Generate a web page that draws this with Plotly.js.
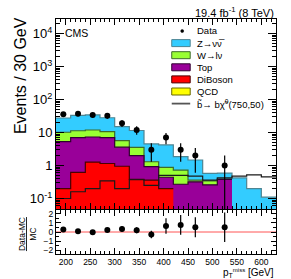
<!DOCTYPE html>
<html><head><meta charset="utf-8">
<script src="https://cdn.plot.ly/plotly-3.0.1.min.js"></script>
<style>html,body{margin:0;padding:0;background:#fff}#c{width:291px;height:279px}</style>
</head><body><div id="c"></div>
<script>
// ---- data ----
const binEdges   = [180,210,240,270,300,330,360,390,420,450,480,510,540,570,600,630];
const qcd        = [0,0,0,0,0,0,0,0,0,0,0,0,0,0,0];
const diboson    = [0.20,0.62,1.27,1.15,0.95,0.38,0.36,0.20,0,0,0,0,0,0,0];
const topq       = [5.10,6.38,6.03,5.85,2.65,1.62,0.56,0.24,0.27,0.32,0.26,0.38,0,0,0];
const wlnu       = [4.90,4.30,4.60,3.60,2.10,1.55,0.38,0.44,0.45,0.04,0.08,0.01,0,0,0];
const znunu      = [17.3,21.7,22.1,17.4,9.30,7.95,3.20,3.32,1.13,1.11,0.24,0.20,0.42,0.20,0.11];
const signal     = [0.10,0.16,0.20,0.34,0.20,0.37,0.25,0.50,0.50,0.48,0.36,0.42,0.48,0.52,0.45];
const dataX      = [195,225,255,285,315,345,375,405,435,465,525];
const dataY      = [36,37,34,32,19,12,3,7,3,2,1];
const dataErrUp  = [6.0,6.1,5.8,5.7,4.4,3.5,1.7,2.6,1.7,1.4,1.0];
const dataErrDn  = [6.0,6.1,5.8,5.7,4.4,3.5,1.7,2.6,1.7,1.4,0.999];
const ratioY     = [0.26,0.08,-0.03,0.23,0.34,0.19,-0.27,0.66,0.77,0.52,0.52];
const ratioErr   = [0.20,0.18,0.18,0.20,0.30,0.32,0.42,0.84,1.08,1.08,1.60];
const xTicks     = [200,250,300,350,400,450,500,550,600];
const yTickVals  = [0.1,1,10,100,1000,10000];
const yTickText  = ['10<sup>-1</sup>','1','10','10<sup>2</sup>','10<sup>3</sup>','10<sup>4</sup>'];

// ---- stacking ----
const comps = [qcd, diboson, topq, wlnu, znunu];
const cum = [];
let run = new Array(qcd.length).fill(0);
for (const c of comps) { run = run.map((v,i)=>v + c[i]); cum.push(run.slice()); }

const styles = [
  {name:'QCD',     fill:'#ffff00', line:'#666600'},
  {name:'DiBoson', fill:'#ff0000', line:'#4a0000'},
  {name:'Top',     fill:'#990099', line:'#300030'},
  {name:'W',       fill:'#99ff33', line:'#3d6b2a'},
  {name:'Z',       fill:'#33ccff', line:'#4d8593'}
];

function stepTrace(vals, comp, fill, line, name) {
  let k = -1;
  for (let i=0;i<vals.length;i++) if (vals[i] > 0 && comp.slice(i).some(v=>v>0)) k = i;
  if (k < 0) return null;
  const x = binEdges.slice(0, k+2);
  const y = vals.slice(0, k+1); y.push(vals[k]);
  return {type:'scatter', mode:'lines', x:x, y:y, name:name,
    line:{shape:'hv', color:line, width:1.2}, fill:'tozeroy', fillcolor:fill,
    xaxis:'x2', yaxis:'y2', hoverinfo:'skip', showlegend:false};
}

const traces = [];
for (let j=comps.length-1;j>=0;j--) {
  const t = stepTrace(cum[j], comps[j], styles[j].fill, styles[j].line, styles[j].name);
  if (t) traces.push(t);
}
const sy = signal.slice(); sy.push(signal[signal.length-1]);
traces.push({type:'scatter', mode:'lines', x:binEdges, y:sy, line:{shape:'hv', color:'#1a1a1a', width:1.2},
  xaxis:'x2', yaxis:'y2', showlegend:false, hoverinfo:'skip'});
traces.push({type:'scatter', mode:'markers', x:dataX, y:dataY,
  marker:{color:'black', size:6},
  error_y:{type:'data', symmetric:false, array:dataErrUp, arrayminus:dataErrDn, color:'black', thickness:1.2, width:0},
  xaxis:'x2', yaxis:'y2', showlegend:false, hoverinfo:'skip'});
traces.push({type:'scatter', mode:'markers', x:dataX, y:ratioY,
  marker:{color:'black', size:6},
  error_y:{type:'data', array:ratioErr, color:'black', thickness:1.2, width:0},
  xaxis:'x', yaxis:'y', showlegend:false, hoverinfo:'skip'});

// ---- geometry helpers for decorations (pixel -> paper) ----
const L=56, R=276.5, T=19, B=254;
const px = v => (v - L)/(R - L);
const py = v => (B - v)/(B - T);

const F = 'Liberation Sans, Arial, sans-serif';
const minorLog = [];
for (let e=-2;e<=4;e++) for (let m=2;m<=9;m++) minorLog.push(m*Math.pow(10,e));

const shapes = [
  {type:'line', xref:'x', yref:'y', x0:180, x1:630, y0:0, y1:0, line:{color:'#ff5555', width:1}, layer:'below'}
];
const annotations = [
  {text:'19.4 fb<sup>-1</sup> (8 TeV)', xref:'paper', yref:'paper', x:1, y:py(12), xanchor:'right', yanchor:'middle', showarrow:false, font:{family:F, size:11, color:'black'}},
  {text:'CMS', xref:'paper', yref:'paper', x:px(63), y:py(33), xanchor:'left', yanchor:'middle', showarrow:false, font:{family:F, size:10.5, color:'black'}},
  {text:'Events / 30 GeV', xref:'paper', yref:'paper', x:px(20), y:py(76), xanchor:'center', yanchor:'middle', textangle:-90, showarrow:false, font:{family:F, size:16, color:'black'}},
  {text:'<u>Data-MC</u><br>MC', xref:'paper', yref:'paper', x:px(27), y:py(234), xanchor:'center', yanchor:'middle', textangle:-90, showarrow:false, font:{family:F, size:8.5, color:'black'}},
  {text:'p<sub>T</sub><sup><span style="font-size:6px">miss</span></sup> [GeV]', xref:'paper', yref:'paper', x:1, y:py(272.5), xanchor:'right', yanchor:'middle', showarrow:false, font:{family:F, size:10, color:'black'}}
];

// ---- manual legend ----
const legItems = [
  {type:'marker', text:'Data'},
  {type:'box', text:'Z\u2192\u03bd\u03bd\u0305', fill:'#33ccff', line:'#4d8593'},
  {type:'box', text:'W\u2192l\u03bd', fill:'#99ff33', line:'#3d6b2a'},
  {type:'box', text:'Top', fill:'#990099', line:'#300030'},
  {type:'box', text:'DiBoson', fill:'#ff0000', line:'#4a0000'},
  {type:'box', text:'QCD', fill:'#ffff00', line:'#666600'},
  {type:'line', text:'b\u0303\u2192 b\u03c7\u0303<sup>0</sup>(750,50)'}
];
const lx0=172, lx1=190.5, ltx=195, ly0=31, ldy=12.1;
legItems.forEach((it,i)=>{
  const yc = ly0 + i*ldy;
  if (it.type==='box') shapes.push({type:'rect', xref:'paper', yref:'paper', x0:px(lx0), x1:px(lx1), y0:py(yc+3.5), y1:py(yc-3.5), fillcolor:it.fill, line:{color:it.line, width:1}});
  else if (it.type==='marker') shapes.push({type:'circle', xref:'paper', yref:'paper', x0:px(181), x1:px(184), y0:py(yc+1.5), y1:py(yc-1.5), fillcolor:'black', line:{color:'black', width:0.5}});
  else shapes.push({type:'line', xref:'paper', yref:'paper', x0:px(lx0), x1:px(lx1), y0:py(yc), y1:py(yc), line:{color:'#555555', width:1.8}});
  annotations.push({text:it.text, xref:'paper', yref:'paper', x:px(ltx), y:py(yc), xanchor:'left', yanchor:'middle', showarrow:false, font:{family:F, size:9.5, color:'black'}});
});

const axCommon = {showline:true, linecolor:'black', linewidth:1, mirror:'allticks', ticks:'inside', tickcolor:'black', showgrid:false, zeroline:false};
const layout = {
  width:291, height:279, margin:{l:L, r:291-R, t:T, b:279-B}, paper_bgcolor:'white', plot_bgcolor:'white',
  showlegend:false, font:{family:F, color:'black'},
  xaxis: Object.assign({}, axCommon, {anchor:'y', range:[180,630], tickmode:'array', tickvals:xTicks, ticklen:6,
    tickfont:{family:F, size:8.5}, minor:{dtick:10, tick0:180, ticks:'inside', ticklen:3, tickcolor:'black'}}),
  xaxis2: Object.assign({}, axCommon, {anchor:'y2', matches:'x', range:[180,630], tickmode:'array', tickvals:xTicks, ticklen:6,
    showticklabels:false, minor:{dtick:10, tick0:180, ticks:'inside', ticklen:3, tickcolor:'black'}}),
  yaxis: Object.assign({}, axCommon, {anchor:'x', domain:[0, py(210)], range:[-2.4,2.4], tickmode:'array', tickvals:[-2,-1,0,1,2], ticklen:5,
    tickfont:{family:F, size:8.5}, minor:{tickvals:[-1.5,-0.5,0.5,1.5], ticks:'inside', ticklen:3, tickcolor:'black'}}),
  yaxis2: Object.assign({}, axCommon, {anchor:'x2', domain:[py(209), 1], type:'log', range:[-1.318, 4.44], tickmode:'array',
    tickvals:yTickVals, ticktext:yTickText, ticklen:8, tickfont:{family:F, size:13},
    minor:{tickvals:minorLog, ticks:'inside', ticklen:4, tickcolor:'black'}}),
  shapes:shapes, annotations:annotations
};
Plotly.newPlot('c', traces, layout, {staticPlot:true, displayModeBar:false});
</script></body></html>
